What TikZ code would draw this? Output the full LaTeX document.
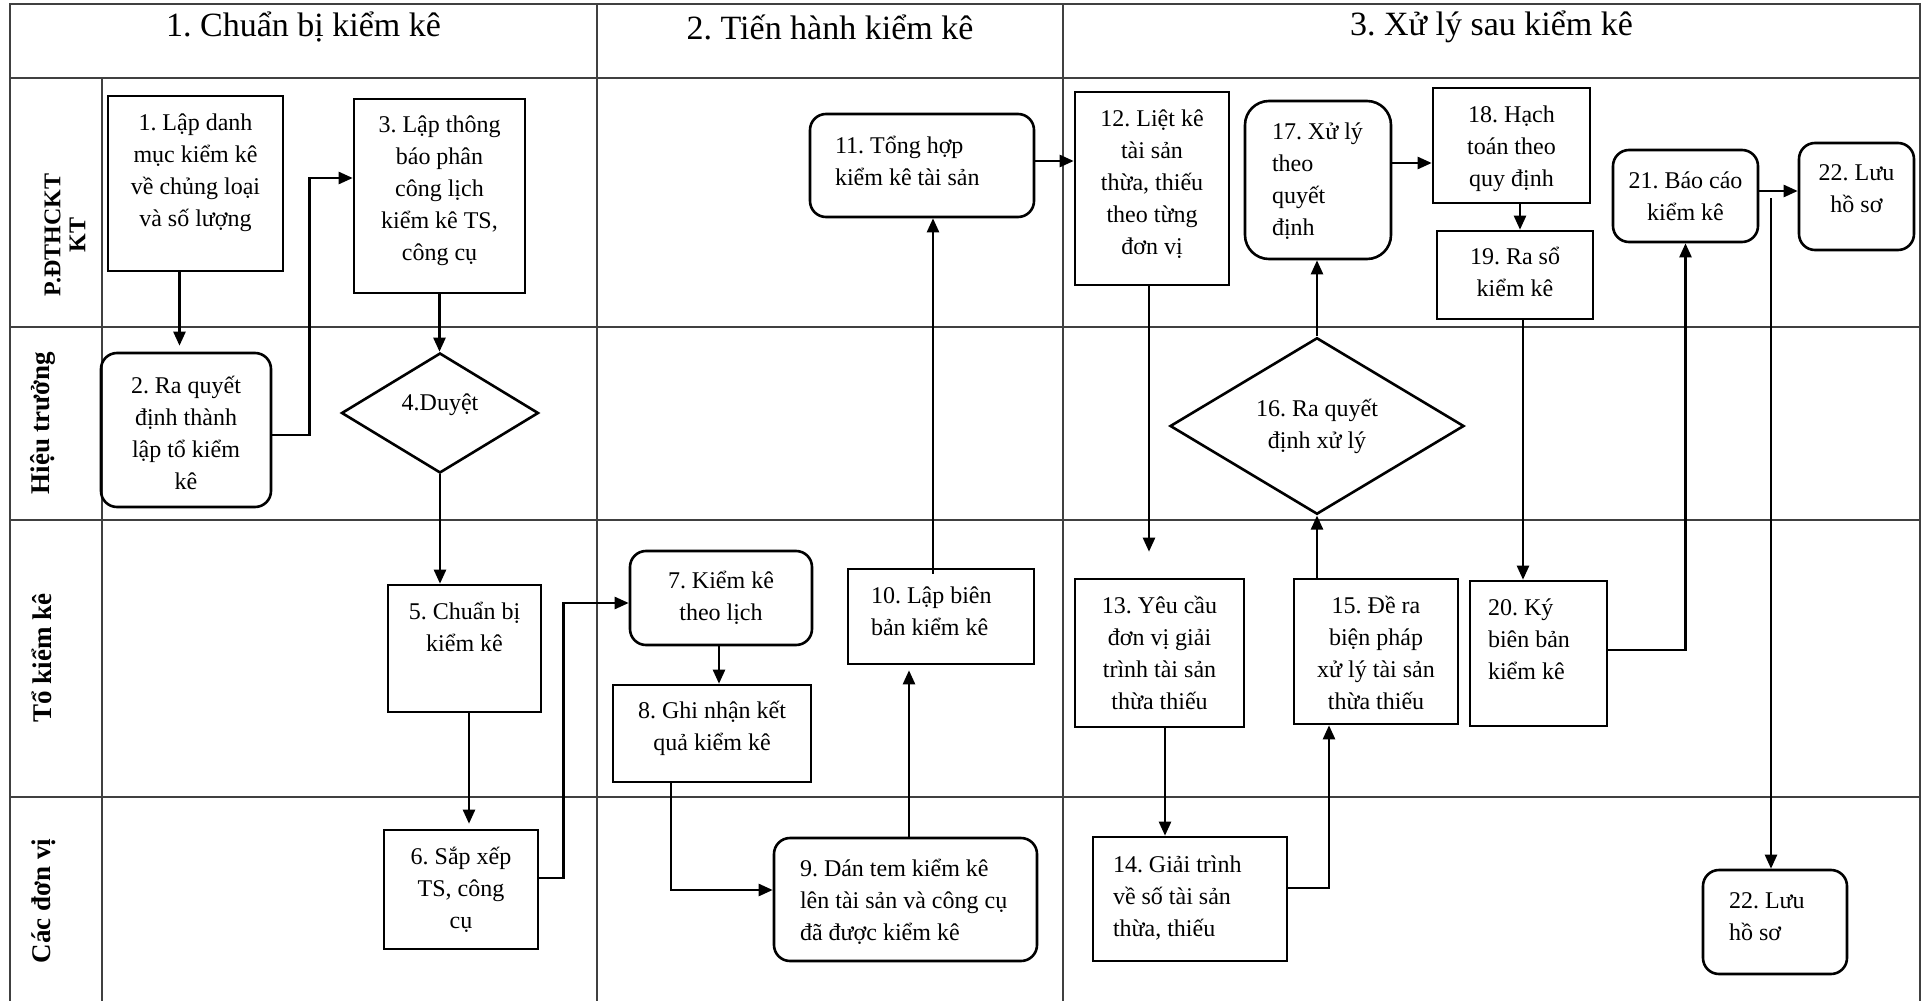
\documentclass[tikz,border=0pt]{standalone}
\usepackage{fontspec}
\setmainfont{Liberation Serif}
\usetikzlibrary{shapes.geometric,arrows.meta}
\frenchspacing
\newcommand\cbx[4]{\parbox[c][#2][t]{#1}{\centering\vspace*{\dimexpr#3+1.8pt\relax}\strut#4}}
\newcommand\lbx[5]{\parbox[c][#2][t]{#1}{\raggedright\leftskip=#4\relax\vspace*{\dimexpr#3+1.8pt\relax}\strut#5}}
\begin{document}
\begin{tikzpicture}[x=0.5pt,y=-0.5pt,
  grid/.style={line width=1pt,draw=black!75},
  box/.style={draw,line width=1.3pt,inner sep=0pt,font=\fontsize{12}{16}\selectfont},
  rbox/.style={box,rounded corners=8pt},
  dia/.style={box,diamond,align=center},
  arr/.style={line width=1.2pt,-{Triangle[length=7pt,width=6pt]}},
  lane/.style={rotate=90,font=\bfseries\fontsize{13.5}{15}\selectfont,inner sep=0pt},
  head/.style={font=\fontsize{17}{20}\selectfont,inner sep=0pt}]
\useasboundingbox (0,0) rectangle (1924,1001);
% table
\draw[grid] (10,1001) -- (10,4) -- (1920,4) -- (1920,1001);
\foreach \yy in {78,327,520,797} \draw[grid] (10,\yy) -- (1920,\yy);
\draw[grid] (102,78) -- (102,1001);
\draw[grid] (597,4) -- (597,1001);
\draw[grid] (1063,4) -- (1063,1001);
% headers
\node[head] (h1) at (303.5,27) {1. Chuẩn bị kiểm kê};
\node[head] (h2) at (830,27) {2. Tiến hành kiểm kê};
\node[head] (h3) at (1491.5,27) {3. Xử lý sau kiểm kê};
% lanes
\node[lane,align=center,font=\bfseries\fontsize{12}{12.5}\selectfont] (l1) at (65,235) {P.ĐTHCKT\\KT};
\node[lane] (l2) at (43,423) {Hiệu trưởng};
\node[lane] (l3) at (42,658) {Tổ kiểm kê};
\node[lane] (l4) at (44,901) {Các đơn vị};
% boxes
\node[box] (n1) at (195.5,183.5) {\cbx{87.5pt}{87.5pt}{4pt}{1. Lập danh\\mục kiểm kê\\về chủng loại\\và số lượng}};
\node[rbox] (n2) at (186,430) {\cbx{85pt}{77pt}{7pt}{2. Ra quyết\\định thành\\lập tổ kiểm\\kê}};
\node[box] (n3) at (439.5,196) {\cbx{85.5pt}{97pt}{3.5pt}{3. Lập thông\\báo phân\\công lịch\\kiểm kê TS,\\công cụ}};
\node[dia,minimum width=98.5pt,minimum height=60pt] (n4) at (440,413) {\raisebox{1.5pt}[0pt][0pt]{4.Duyệt}};
\node[box] (n5) at (464.5,648.5) {\cbx{76.5pt}{63.5pt}{4pt}{5. Chuẩn bị\\kiểm kê}};
\node[box] (n6) at (461,889.5) {\cbx{77pt}{59.5pt}{4pt}{6. Sắp xếp\\TS, công\\cụ}};
\node[rbox] (n7) at (721,598) {\cbx{91pt}{47pt}{5.5pt}{7. Kiểm kê\\theo lịch}};
\node[box] (n8) at (712,733.5) {\cbx{99pt}{48.5pt}{3.5pt}{8. Ghi nhận kết\\quả kiểm kê}};
\node[rbox] (n9) at (905.5,899.5) {\lbx{131.5pt}{61.5pt}{6pt}{13pt}{9. Dán tem kiểm kê\\lên tài sản và công cụ\\đã được kiểm kê}};
\node[box] (n10) at (941,616.5) {\lbx{93pt}{47.5pt}{4pt}{11.5pt}{10. Lập biên\\bản kiểm kê}};
\node[rbox] (n11) at (922,165.5) {\lbx{112pt}{51.5pt}{6.5pt}{12.5pt}{11. Tổng hợp\\kiểm kê tài sản}};
\node[box] (n12) at (1152,188.5) {\cbx{77pt}{96.5pt}{4pt}{12. Liệt kê\\tài sản\\thừa, thiếu\\theo từng\\đơn vị}};
\node[box] (n13) at (1159.5,653) {\cbx{84.5pt}{74pt}{4pt}{13. Yêu cầu\\đơn vị giải\\trình tài sản\\thừa thiếu}};
\node[box] (n14) at (1190,899) {\lbx{97pt}{62pt}{4.5pt}{10pt}{14. Giải trình\\về số tài sản\\thừa, thiếu}};
\node[box] (n15) at (1376,651.5) {\cbx{82pt}{72.5pt}{4pt}{15. Đề ra\\biện pháp\\xử lý tài sản\\thừa thiếu}};
\node[dia,minimum width=147pt,minimum height=73pt] (n16) at (1317,426) {16. Ra quyết\\định xử lý};
\node[rbox,rounded corners=12pt] (n17) at (1318,180) {\lbx{73pt}{79pt}{6pt}{13.5pt}{17. Xử lý\\theo\\quyết\\định}};
\node[box] (n18) at (1511.5,145.5) {\cbx{78.5pt}{57.5pt}{4pt}{18. Hạch\\toán theo\\quy định}};
\node[box] (n19) at (1515,275) {\cbx{78pt}{44pt}{3.5pt}{19. Ra sổ\\kiểm kê}};
\node[box] (n20) at (1538.5,653.5) {\lbx{68.5pt}{72.5pt}{4pt}{9pt}{20. Ký\\biên bản\\kiểm kê}};
\node[rbox] (n21) at (1685.5,196) {\cbx{72.5pt}{46pt}{6pt}{21. Báo cáo\\kiểm kê}};
\node[rbox] (n22a) at (1856.5,196.5) {\cbx{57.5pt}{53.5pt}{5.5pt}{22. Lưu\\hồ sơ}};
\node[rbox] (n22b) at (1775,922) {\lbx{72pt}{52pt}{6pt}{13pt}{22. Lưu\\hồ sơ}};
% connectors
\draw[arr,shorten >=3pt] ([xshift=-8pt]n1.south) -- ([xshift=-8pt]n1.south |- n2.north);
\draw[arr] ([yshift=-2.5pt]n2.east) -- ++(18.5pt,0) |- ([yshift=9pt]n3.west);
\draw[arr] (n3.south) -- (n3.south |- n4.north);
\draw[arr] (n4.south) -- (n4.south |- n5.north);
\draw[arr,shorten >=2.5pt] ([xshift=2.25pt]n5.south) -- ([xshift=2.25pt]n5.south |- n6.north);
\draw[arr] ([yshift=5.75pt]n6.east) -- ++(12pt,0) |- ([yshift=-2.5pt]n7.west);
\draw[arr] ([xshift=-1pt]n7.south) -- ([xshift=-1pt]n7.south |- n8.north);
\draw[arr] ([xshift=-20.5pt]n8.south) |- ([yshift=4.75pt]n9.west);
\draw[arr,shorten >=2.5pt] ([xshift=1.75pt]n9.north) -- ([xshift=1.75pt]n9.north |- n10.south);
\draw[arr,shorten <=-3pt] ([xshift=-4pt]n10.north) -- ([xshift=-4pt]n10.north |- n11.south);
\draw[arr] ([yshift=2.25pt]n11.east) -- ([yshift=2.25pt]n11.east -| n12.west);
\draw[arr,shorten >=13pt] ([xshift=-1.5pt]n12.south) -- ([xshift=-1.5pt]n12.south |- n13.north);
\draw[arr] ([xshift=2.75pt]n13.south) -- ([xshift=2.75pt]n13.south |- n14.north);
\draw[arr] ([yshift=5.5pt]n14.east) -| ([xshift=-23.5pt]n15.south);
\draw[arr] (n16.south |- n15.north) -- (n16.south);
\draw[arr] (n16.north) -- (n16.north |- n17.south);
\draw[arr] ([yshift=8.5pt]n17.east) -- ([yshift=8.5pt]n17.east -| n18.west);
\draw[arr] ([xshift=4.25pt]n18.south) -- ([xshift=4.25pt]n18.south |- n19.north);
\draw[arr] ([xshift=4pt]n19.south) -- ([xshift=4pt]n19.south |- n20.north);
\draw[arr] ([yshift=1.75pt]n20.east) -| (n21.south);
\draw[arr] ([yshift=2.5pt]n21.east) -- ([yshift=2.5pt]n21.east -| n22a.west);
\coordinate (s22) at (1771,198);
\draw[arr] (s22) -- (s22 |- n22b.north);
\end{tikzpicture}
\end{document}
